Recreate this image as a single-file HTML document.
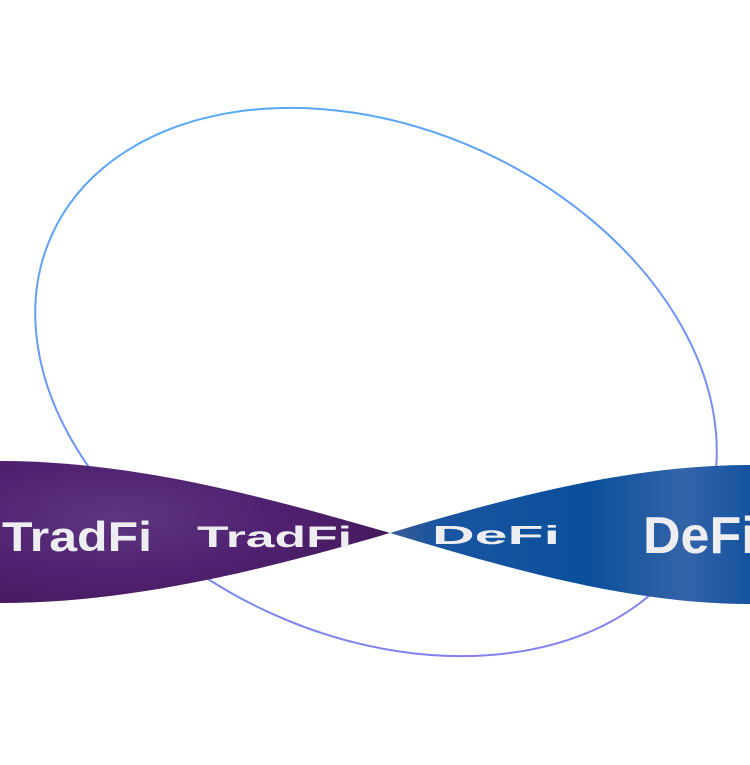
<!DOCTYPE html>
<html><head><meta charset="utf-8"><style>
html,body{margin:0;padding:0;background:#fff;}
svg{display:block;}
text{font-family:"Liberation Sans",sans-serif;font-weight:bold;fill:#eeeef2;}
</style></head><body>
<svg width="750" height="765" viewBox="0 0 750 765" xmlns="http://www.w3.org/2000/svg">
<defs>
<linearGradient id="st" x1="0" y1="0" x2="1" y2="1">
<stop offset="0" stop-color="#4fb0f8"/><stop offset="1" stop-color="#8c78ea"/>
</linearGradient>
<radialGradient id="pu" cx="0.3" cy="0.4" r="0.7">
<stop offset="0" stop-color="#5e3580"/><stop offset="0.6" stop-color="#4f2170"/><stop offset="1" stop-color="#461a5e"/>
</radialGradient>
<linearGradient id="bl" x1="0" y1="0" x2="1" y2="0">
<stop offset="0" stop-color="#3d5c93"/><stop offset="0.12" stop-color="#1a55a0"/><stop offset="0.55" stop-color="#0a4f9b"/><stop offset="0.82" stop-color="#3464a8"/><stop offset="1" stop-color="#1553a0"/>
</linearGradient>
</defs>
<ellipse cx="376" cy="382" rx="356" ry="254" transform="rotate(24.4 376 382)" fill="none" stroke="url(#st)" stroke-width="2"/>
<path d="M0,461 C130,461 260,495 390,533 C260,571 130,603 0,603 Z" fill="url(#pu)"/>
<path d="M390,533 C510,497 630,465 750,465 L750,604 C630,604 510,569 390,533 Z" fill="url(#bl)"/>
<text x="2" y="551" font-size="42" textLength="150" lengthAdjust="spacingAndGlyphs">TradFi</text>
<text x="197" y="547" font-size="30" textLength="155" lengthAdjust="spacingAndGlyphs">TradFi</text>
<text x="432" y="544" font-size="26" textLength="128" lengthAdjust="spacingAndGlyphs">DeFi</text>
<text x="643" y="553" font-size="52">DeFi</text>
</svg>
</body></html>
